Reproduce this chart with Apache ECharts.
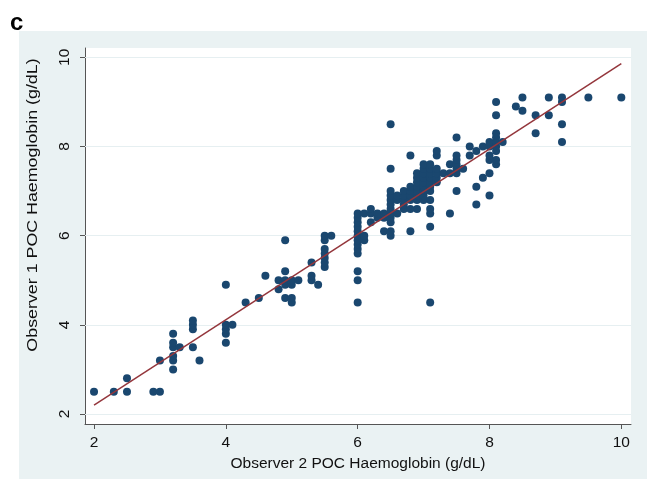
<!DOCTYPE html>
<html>
<head>
<meta charset="utf-8">
<script src="https://cdn.jsdelivr.net/npm/echarts@6/dist/echarts.min.js"></script>
<style>
html,body{margin:0;padding:0;background:#fff;}
#chart{width:647px;height:479px;}
</style>
</head>
<body>
<div id="chart"></div>
<script>
// Observer 2 (x) and Observer 1 (y) POC haemoglobin readings, paired
const obs2 = [
  2.0, 2.3, 2.5, 2.5, 2.9, 3.0, 3.0,
  3.2, 3.2, 3.2, 3.2, 3.2, 3.2, 3.3,
  3.5, 3.5, 3.5, 3.5, 3.6,
  4.0, 4.0, 4.0, 4.0, 4.0, 4.1, 4.3, 4.5, 4.6,
  4.8, 4.8, 4.9, 4.9, 4.9, 4.9, 4.9,
  5.0, 5.0, 5.0, 5.0, 5.1, 5.3, 5.3, 5.3, 5.4,
  5.5, 5.5, 5.5, 5.5, 5.5, 5.5, 5.5, 5.6,
  6.0, 6.0, 6.0, 6.0, 6.0, 6.0, 6.0, 6.0, 6.0, 6.0, 6.0, 6.0, 6.0,
  6.1, 6.1, 6.1, 6.2, 6.2, 6.2, 6.3, 6.3, 6.4, 6.4, 6.4,
  6.5, 6.5, 6.5, 6.5, 6.5, 6.5, 6.5, 6.5, 6.5, 6.5, 6.5, 6.5,
  6.6, 6.6, 6.6, 6.7, 6.7, 6.7, 6.7, 6.7,
  6.8, 6.8, 6.8, 6.8, 6.8, 6.8, 6.8,
  6.9, 6.9, 6.9, 6.9, 6.9, 6.9, 6.9, 6.9,
  7.0, 7.0, 7.0, 7.0, 7.0, 7.0, 7.0, 7.0, 7.0,
  7.1, 7.1, 7.1, 7.1, 7.1, 7.1, 7.1, 7.1, 7.1, 7.1, 7.1, 7.1,
  7.2, 7.2, 7.2, 7.2, 7.2, 7.2, 7.3, 7.4, 7.4, 7.4,
  7.5, 7.5, 7.5, 7.5, 7.5, 7.5, 7.5, 7.6, 7.7, 7.7,
  7.8, 7.8, 7.8, 7.9, 7.9,
  8.0, 8.0, 8.0, 8.0, 8.0, 8.0,
  8.1, 8.1, 8.1, 8.1, 8.1, 8.1, 8.1, 8.1, 8.1, 8.2,
  8.4, 8.5, 8.5, 8.7, 8.7, 8.9, 8.9,
  9.1, 9.1, 9.1, 9.1, 9.5, 10.0
];
const obs1 = [
  2.5, 2.5, 2.5, 2.8, 2.5, 2.5, 3.2,
  3.0, 3.2, 3.3, 3.5, 3.6, 3.8, 3.5,
  3.5, 3.9, 4.0, 4.1, 3.2,
  3.6, 3.8, 3.9, 4.0, 4.9, 4.0, 4.5, 4.6, 5.1,
  4.8, 5.0, 4.6, 4.9, 5.0, 5.2, 5.9,
  4.5, 4.6, 4.9, 5.0, 5.0, 5.0, 5.1, 5.4, 4.9,
  5.3, 5.4, 5.5, 5.6, 5.7, 5.9, 6.0, 6.0,
  4.5, 5.0, 5.2, 5.6, 5.7, 5.8, 5.9, 6.0, 6.1, 6.2, 6.3, 6.4, 6.5,
  5.9, 6.0, 6.5, 6.3, 6.5, 6.6, 6.4, 6.5, 6.1, 6.4, 6.5,
  6.0, 6.1, 6.3, 6.4, 6.5, 6.6, 6.7, 6.8, 6.9, 7.0, 7.5, 8.5,
  6.5, 6.8, 6.9, 6.6, 6.7, 6.8, 6.9, 7.0,
  6.1, 6.6, 6.8, 6.9, 7.0, 7.1, 7.8,
  6.6, 6.8, 6.9, 7.0, 7.1, 7.2, 7.3, 7.4,
  6.8, 6.9, 7.0, 7.1, 7.2, 7.3, 7.4, 7.5, 7.6,
  4.5, 6.2, 6.5, 6.6, 6.8, 7.0, 7.1, 7.2, 7.3, 7.4, 7.5, 7.6,
  7.2, 7.3, 7.4, 7.5, 7.8, 7.9, 7.4, 6.5, 7.4, 7.6,
  7.0, 7.4, 7.5, 7.6, 7.7, 7.8, 8.2, 7.5, 7.8, 8.0,
  6.7, 7.1, 7.9, 7.3, 8.0,
  6.9, 7.4, 7.7, 7.8, 8.0, 8.1,
  7.6, 7.7, 7.9, 8.0, 8.1, 8.2, 8.3, 8.7, 9.0, 8.1,
  8.9, 8.8, 9.1, 8.3, 8.7, 8.7, 9.1,
  8.1, 8.5, 9.0, 9.1, 9.1, 9.1
];
// fitted line end points
const fitX = [2.0, 10.0];
const fitY = [2.2, 9.86];
// tick labels
const xTicks = [2, 4, 6, 8, 10];
const yTicks = [2, 4, 6, 8, 10];
const xTitle = 'Observer 2 POC Haemoglobin (g/dL)';
const yTitle = 'Observer 1 POC Haemoglobin (g/dL)';

const points = obs2.map((x, i) => [x, obs1[i]]);
const fitLine = fitX.map((x, i) => [x, fitY[i]]);

const chart = echarts.init(document.getElementById('chart'), null, {renderer: 'canvas'});
const font = 'Liberation Sans, Arial, Helvetica, sans-serif';
const axisColor = '#555';
const textColor = '#111';

chart.setOption({
  animation: false,
  backgroundColor: '#fff',
  textStyle: {fontFamily: font},
  graphic: [
    {type: 'rect', silent: true, z: -10, shape: {x: 19, y: 31, width: 628, height: 448}, style: {fill: '#eaf2f3'}},
    {type: 'text', left: 10, top: 11, style: {text: 'c', font: 'bold 24px ' + font, fill: '#000'}},
    {type: 'text', x: 33, y: 205, rotation: Math.PI / 2, scaleX: 1.15, silent: true,
     style: {text: yTitle, font: '15.5px ' + font, fill: textColor, align: 'center', verticalAlign: 'middle'}}
  ],
  grid: {left: 85, top: 48, width: 546, height: 376, show: true, backgroundColor: '#fff', borderWidth: 0},
  xAxis: {
    type: 'value', min: 1.863, max: 10.147,
    axisLine: {show: true, onZero: false, lineStyle: {color: axisColor, width: 1}},
    axisTick: {show: true, length: 5, customValues: xTicks, lineStyle: {color: axisColor}},
    axisLabel: {customValues: xTicks, fontSize: 15.5, color: textColor, margin: 11, fontFamily: font},
    splitLine: {show: false},
    name: xTitle, nameLocation: 'middle', nameGap: 25,
    nameTextStyle: {fontSize: 15.5, color: textColor, fontFamily: font}
  },
  yAxis: {
    type: 'value', min: 1.776, max: 10.21,
    axisLine: {show: true, onZero: false, lineStyle: {color: axisColor, width: 1}},
    axisTick: {show: true, length: 5, customValues: yTicks, lineStyle: {color: axisColor}},
    axisLabel: {customValues: yTicks, fontSize: 15.5, color: textColor, margin: 12, rotate: 90, fontFamily: font},
    splitLine: {show: false}
  },
  series: [
    {
      type: 'line', data: [], silent: true, z: 1,
      markLine: {
        silent: true, z: 1, symbol: ['none', 'none'], label: {show: false},
        lineStyle: {color: '#e6eff1', width: 1.2, type: 'solid'},
        data: yTicks.map(v => ({yAxis: v}))
      }
    },
    {
      type: 'scatter', data: points, symbol: 'circle', symbolSize: 8, z: 3,
      itemStyle: {color: '#1a476f', opacity: 1}
    },
    {
      type: 'line', data: fitLine, symbol: 'none', z: 4,
      lineStyle: {color: '#94363c', width: 1.5}
    }
  ]
});
</script>
</body>
</html>
